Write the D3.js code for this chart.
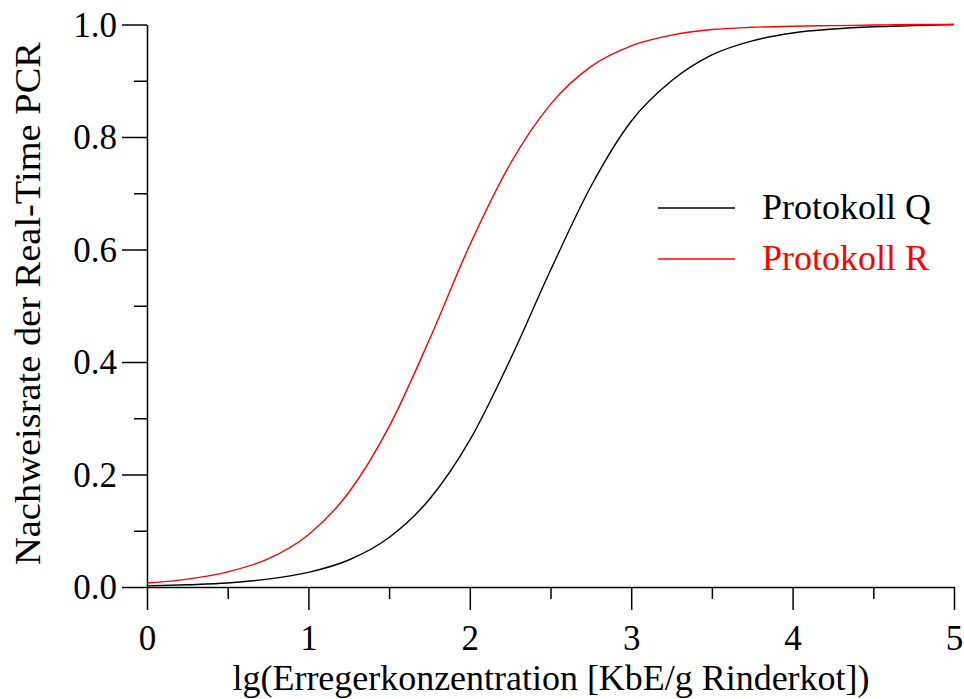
<!DOCTYPE html>
<html>
<head>
<meta charset="utf-8">
<script src="https://cdn.jsdelivr.net/npm/d3@7"></script>
<style>
  body { margin: 0; background: #fff; }
  svg { display: block; }
  svg text { font-family: "Liberation Serif", "Times New Roman", Tinos, "DejaVu Serif", serif; }
</style>
</head>
<body>
<div id="chart"></div>
<script>
// lg concentration grid
var xValues = [0, 0.25, 0.5, 0.75, 1, 1.25, 1.5, 1.75, 2, 2.25, 2.5, 2.75, 3, 3.25, 3.5, 3.75, 4, 4.25, 4.5, 4.75, 5];
// detection rate, Protokoll Q (black)
var rateQ = [0.002, 0.004, 0.007, 0.014, 0.026, 0.048, 0.088, 0.156, 0.261, 0.404, 0.563, 0.712, 0.828, 0.90, 0.946, 0.971, 0.985, 0.992, 0.996, 0.998, 1.0];
// detection rate, Protokoll R (red)
var rateR = [0.007, 0.014, 0.027, 0.05, 0.093, 0.168, 0.285, 0.44, 0.608, 0.752, 0.858, 0.925, 0.962, 0.981, 0.991, 0.995, 0.997, 0.998, 0.999, 1.0, 1.0];

var seriesNames = ['Protokoll Q', 'Protokoll R'];
var seriesColors = ['#000000', '#ff0000'];

var xMajor = [0, 1, 2, 3, 4, 5];
var xMinor = [0.5, 1.5, 2.5, 3.5, 4.5];
var yMajor = [0, 0.2, 0.4, 0.6, 0.8, 1.0];
var yMinor = [0.1, 0.3, 0.5, 0.7, 0.9];

var W = 964, H = 699;
var font = '"Liberation Serif", "Times New Roman", Tinos, "DejaVu Serif", serif';

var svg = d3.select('#chart')
    .append('svg')
    .attr('width', W)
    .attr('height', H);

var xScale = d3.scaleLinear().domain([0, 5]).range([147, 954]);
var yScale = d3.scaleLinear().domain([0, 1]).range([587, 24.5]);

// minor ticks first
svg.append('g')
    .attr('transform', 'translate(0, ' + yScale(0) + ')')
    .call(d3.axisBottom(xScale).tickValues(xMinor).tickSize(12).tickFormat(''))
    .call(g => g.select('.domain').remove());

svg.append('g')
    .attr('transform', 'translate(' + xScale(0) + ', 0)')
    .call(d3.axisLeft(yScale).tickValues(yMinor).tickSize(13).tickFormat(''))
    .call(g => g.select('.domain').remove());

var xAxis = svg.append('g')
    .attr('transform', 'translate(0, ' + yScale(0) + ')')
    .call(d3.axisBottom(xScale).tickValues(xMajor).tickSize(23).tickSizeOuter(0).tickPadding(10)
        .tickFormat(d3.format('d')));

var yAxis = svg.append('g')
    .attr('transform', 'translate(' + xScale(0) + ', 0)')
    .call(d3.axisLeft(yScale).tickValues(yMajor).tickSize(25).tickSizeOuter(0).tickPadding(5)
        .tickFormat(d3.format('.1f')));

svg.selectAll('g').attr('font-family', null);
svg.selectAll('.tick line').attr('stroke', '#000').attr('stroke-width', 1.5);
svg.selectAll('.domain').attr('stroke', '#000').attr('stroke-width', 1.5);

xAxis.selectAll('text')
    .style('font-family', font)
    .attr('font-size', '35px')
    .attr('fill', '#000')
    .attr('dy', null)
    .attr('y', 63);

yAxis.selectAll('text')
    .style('font-family', font)
    .attr('font-size', '35px')
    .attr('fill', '#000')
    .attr('dy', '0.34em');

// curves
var line = d3.line()
    .x((d) => xScale(d[0]))
    .y((d) => yScale(d[1]))
    .curve(d3.curveMonotoneX);

[rateQ, rateR].forEach(function(rates, i) {
    svg.append('path')
        .datum(xValues.map((x, j) => [x, rates[j]]))
        .attr('fill', 'none')
        .attr('stroke', seriesColors[i])
        .attr('stroke-width', 1.4)
        .attr('d', line);
});

// legend
var legend = svg.append('g');
seriesNames.forEach(function(name, i) {
    var ly = 208 + i * 51;
    legend.append('line')
        .attr('x1', 658)
        .attr('x2', 735)
        .attr('y1', ly)
        .attr('y2', ly)
        .attr('stroke', seriesColors[i])
        .attr('stroke-width', 1.4);
    legend.append('text')
        .attr('x', 762)
        .attr('y', ly + 11)
        .style('font-family', font)
        .attr('font-size', '36px')
        .attr('fill', seriesColors[i])
        .text(name);
});

// axis titles
svg.append('text')
    .attr('x', 551)
    .attr('y', 690)
    .style('font-family', font)
    .attr('font-size', '35px')
    .attr('text-anchor', 'middle')
    .attr('textLength', 637)
    .attr('lengthAdjust', 'spacingAndGlyphs')
    .text('lg(Erregerkonzentration [KbE/g Rinderkot])');

svg.append('text')
    .attr('transform', 'translate(40, 303.5) rotate(-90)')
    .style('font-family', font)
    .attr('font-size', '35px')
    .attr('text-anchor', 'middle')
    .attr('textLength', 523)
    .attr('lengthAdjust', 'spacingAndGlyphs')
    .text('Nachweisrate der Real-Time PCR');
</script>
</body>
</html>
